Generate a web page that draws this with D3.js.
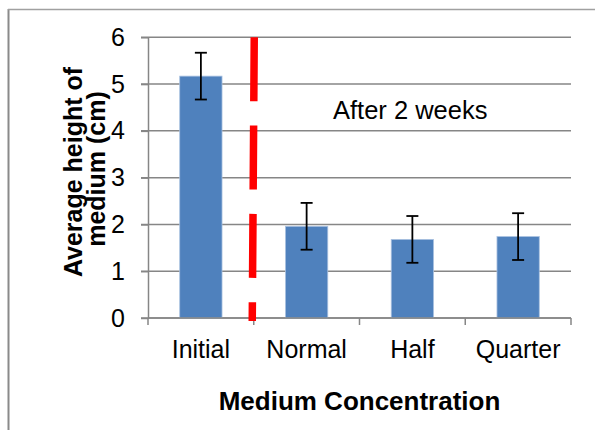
<!DOCTYPE html>
<html>
<head>
<meta charset="utf-8">
<script src="https://cdn.jsdelivr.net/npm/d3@7/dist/d3.min.js"></script>
<style>
  body { margin: 0; background: #fff; }
  svg { display: block; font-family: "Liberation Sans", Arial, sans-serif; }
</style>
</head>
<body>
<div id="chart"></div>
<script>
// data
var categories = ["Initial", "Normal", "Half", "Quarter"];
var heights = [5.17, 1.96, 1.68, 1.74];
var errors = [0.5, 0.5, 0.5, 0.5];
var yTicks = [0, 1, 2, 3, 4, 5, 6];

var width = 595, height = 430;
var plotLeft = 148, plotRight = 571, plotTop = 37.3, plotBottom = 318;

var svg = d3.select("#chart").append("svg")
  .attr("width", width)
  .attr("height", height);

// outer frame (only top and left edges visible)
svg.append("line")
  .attr("x1", 8.5).attr("y1", 9).attr("x2", 8.5).attr("y2", height)
  .attr("stroke", "#8a8a8a").attr("stroke-width", 2);
svg.append("line")
  .attr("x1", 8).attr("y1", 9.5).attr("x2", width).attr("y2", 9.5)
  .attr("stroke", "#a0a0a0").attr("stroke-width", 1.5);

var x = d3.scaleBand()
  .domain(categories)
  .range([plotLeft, plotRight])
  .paddingInner(0.6)
  .paddingOuter(0.3);

var y = d3.scaleLinear()
  .domain([0, 6])
  .range([plotBottom, plotTop]);

var gridColor = "#868686";

// gridlines
svg.append("g")
  .selectAll("line")
  .data(yTicks)
  .enter()
  .append("line")
    .attr("x1", plotLeft - 7)
    .attr("x2", plotRight)
    .attr("y1", d => y(d))
    .attr("y2", d => y(d))
    .attr("stroke", gridColor)
    .attr("stroke-width", 1.5);

// y axis
var yAxis = g => g
  .attr("transform", `translate(${plotLeft},0)`)
  .call(d3.axisLeft(y).tickValues(yTicks).tickFormat(d3.format("d"))
      .tickSize(7).tickPadding(16).tickSizeOuter(0))
  .call(g => g.select(".domain").attr("stroke", gridColor).attr("stroke-width", 1.5))
  .call(g => g.selectAll(".tick line").attr("stroke", gridColor).attr("stroke-width", 1.5))
  .call(g => g.selectAll("text")
      .attr("font-size", "25px")
      .attr("font-family", "Liberation Sans, Arial, sans-serif")
      .attr("fill", "#000"));
svg.append("g").call(yAxis);

// bars
svg.append("g")
  .selectAll("rect")
  .data(heights)
  .enter()
  .append("rect")
    .attr("x", (d, i) => x(categories[i]))
    .attr("y", d => y(d))
    .attr("width", x.bandwidth())
    .attr("height", d => y(0) - y(d))
    .attr("fill", "#4f81bd")
    .attr("stroke", "#a9c1e0")
    .attr("stroke-width", 0.8);

// error bars
var err = svg.append("g")
  .attr("stroke", "#000")
  .attr("stroke-width", 1.8);
heights.forEach(function(d, i) {
  var cx = x(categories[i]) + x.bandwidth() / 2;
  err.append("line")
    .attr("x1", cx).attr("x2", cx)
    .attr("y1", y(d + errors[i])).attr("y2", y(d - errors[i]));
  err.append("line")
    .attr("x1", cx - 6).attr("x2", cx + 6)
    .attr("y1", y(d + errors[i])).attr("y2", y(d + errors[i]));
  err.append("line")
    .attr("x1", cx - 6).attr("x2", cx + 6)
    .attr("y1", y(d - errors[i])).attr("y2", y(d - errors[i]));
});

// x axis: baseline and ticks at category boundaries
var gap = (x.step() - x.bandwidth()) / 2;
var bounds = categories.map(c => x(c) - gap).concat([plotRight]);
svg.append("line")
  .attr("x1", plotLeft).attr("x2", plotRight)
  .attr("y1", y(0)).attr("y2", y(0))
  .attr("stroke", gridColor).attr("stroke-width", 1.5);
svg.append("g")
  .selectAll("line")
  .data(bounds)
  .enter()
  .append("line")
    .attr("x1", d => d).attr("x2", d => d)
    .attr("y1", y(0)).attr("y2", y(0) + 7)
    .attr("stroke", gridColor)
    .attr("stroke-width", 1.5);

var xAxis = g => g
  .attr("transform", `translate(0,${plotBottom})`)
  .call(d3.axisBottom(x).tickSize(0).tickPadding(22))
  .call(g => g.select(".domain").remove())
  .call(g => g.selectAll("text")
      .attr("font-size", "25px")
      .attr("font-family", "Liberation Sans, Arial, sans-serif")
      .attr("fill", "#000"));
svg.append("g").call(xAxis);

// red dashed separator between Initial and later samples
var sep = bounds[1];
svg.append("line")
  .attr("x1", sep + 0.5).attr("y1", plotTop)
  .attr("x2", sep - 1.5).attr("y2", y(0) + 3)
  .attr("stroke", "#ff0000")
  .attr("stroke-width", 7.5)
  .attr("stroke-dasharray", "64,24.3");

// annotation
svg.append("text")
  .attr("x", 333)
  .attr("y", 119)
  .attr("font-size", "25.5px")
  .attr("fill", "#000")
  .text("After 2 weeks");

// axis titles
svg.append("text")
  .attr("x", (plotLeft + plotRight) / 2)
  .attr("y", 410)
  .attr("text-anchor", "middle")
  .attr("font-size", "26px")
  .attr("font-weight", "bold")
  .text("Medium Concentration");

var yTitle = svg.append("g")
  .attr("font-size", "25px")
  .attr("font-weight", "bold")
  .attr("text-anchor", "middle");
yTitle.append("text")
  .attr("transform", "translate(82,172) rotate(-90)")
  .text("Average height of");
yTitle.append("text")
  .attr("transform", "translate(105,169) rotate(-90)")
  .text("medium (cm)");
</script>
</body>
</html>
